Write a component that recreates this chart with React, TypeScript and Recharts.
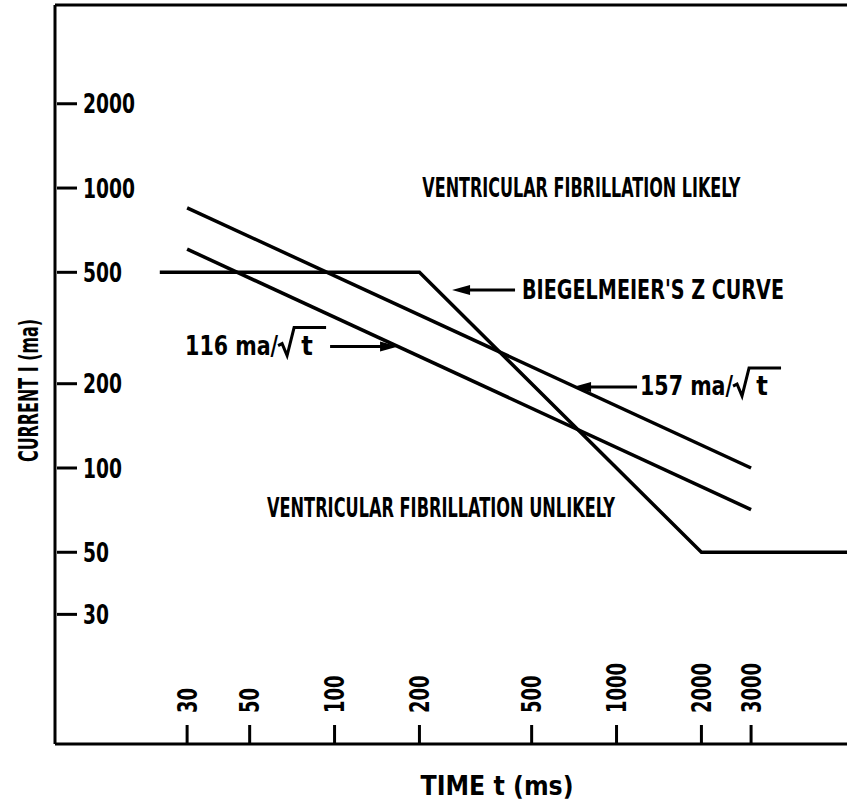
import React from 'react';
import { LineChart, Line, XAxis, YAxis, ReferenceDot, ReferenceLine } from 'recharts';

const FONT = "'Liberation Sans Narrow', 'DejaVu Sans Condensed', 'Liberation Sans', Arial, sans-serif";

// axes
const timeTicks = [30, 50, 100, 200, 500, 1000, 2000, 3000];
const currentTicks = [30, 50, 100, 200, 500, 1000, 2000];
const timeDomain = [10.2, 6566];
const currentDomain = [10.33, 4506];

// Biegelmeier's Z curve
const zTimes = [24, 200, 2000, 8000];
const zCurrents = [500, 500, 50, 50];
// 157 ma / sqrt(t)
const l157Times = [30, 3000];
const l157Currents = [850, 100];
// 116 ma / sqrt(t)
const l116Times = [30, 3000];
const l116Currents = [605, 71];

// annotation anchors (data coordinates)
const likelyAnchor = { t: 750, v: 1000 };
const unlikelyAnchor = { t: 57.6, v: 72 };
const zArrowTip = { t: 261, v: 432 };
const l157ArrowTip = { t: 701, v: 194.6 };
const l116ArrowTip = { t: 168, v: 271.5 };

const zip = (ts: number[], vs: number[]) => ts.map((t, i) => ({ t, v: vs[i] }));
const zData = zip(zTimes, zCurrents);
const l157Data = zip(l157Times, l157Currents);
const l116Data = zip(l116Times, l116Currents);

const YTick = (props: any) => {
  const { x, y, payload } = props;
  const s = String(payload.value);
  return (
    <g>
      <line x1={x + 2} x2={x + 22} y1={y} y2={y} stroke="#000" strokeWidth={3} />
      <text
        x={x + 28}
        y={y}
        dy="0.36em"
        textLength={s.length * 13}
        lengthAdjust="spacingAndGlyphs"
        fontFamily={FONT}
        fontWeight="bold"
        fontSize={27}
        fill="#000"
      >
        {s}
      </text>
    </g>
  );
};

const XTick = (props: any) => {
  const { x, y, payload } = props;
  const s = String(payload.value);
  return (
    <g>
      <line x1={x} x2={x} y1={y - 19} y2={y} stroke="#000" strokeWidth={3} />
      <text
        transform={`translate(${x},${y - 31}) rotate(-90)`}
        dy="0.36em"
        textAnchor="start"
        textLength={s.length * 12.5}
        lengthAdjust="spacingAndGlyphs"
        fontFamily={FONT}
        fontWeight="bold"
        fontSize={27}
        fill="#000"
      >
        {s}
      </text>
    </g>
  );
};

const Arrow = ({ tx, ty, dir, len }: { tx: number; ty: number; dir: number; len: number }) => {
  const back = -dir;
  return (
    <g>
      <line x1={tx + back * 14} x2={tx + back * len} y1={ty} y2={ty} stroke="#000" strokeWidth={3} />
      <polygon
        points={`${tx},${ty} ${tx + back * 18},${ty - 5} ${tx + back * 18},${ty + 5}`}
        fill="#000"
      />
    </g>
  );
};

const SqrtLabel = ({ x, by, num }: { x: number; by: number; num: string }) => (
  <g>
    <text x={x} y={by} textLength={93} lengthAdjust="spacingAndGlyphs" fontFamily={FONT} fontWeight="bold" fontSize={27} fill="#000">
      {num} ma/
    </text>
    <path
      d={`M ${x + 93} ${by - 9} L ${x + 97} ${by - 11} L ${x + 102} ${by + 1} L ${x + 109} ${by - 27} L ${x + 141} ${by - 27}`}
      stroke="#000"
      strokeWidth={3}
      fill="none"
    />
    <text x={x + 122} y={by} textAnchor="middle" fontFamily={FONT} fontWeight="bold" fontSize={27} fill="#000">
      t
    </text>
  </g>
);

const textStyle = { fontFamily: FONT, fontWeight: 'bold' as const, fill: '#000' };

export default function App() {
  return (
    <div style={{ position: 'absolute', left: 0, top: 0, width: 847, height: 803, background: '#fff' }}>
      <LineChart width={847} height={803} margin={{ top: 5, right: 0, left: 54, bottom: 58 }}>
        <XAxis
          dataKey="t"
          type="number"
          scale="log"
          domain={timeDomain}
          allowDataOverflow
          ticks={timeTicks}
          interval={0}
          height={1}
          tickSize={0}
          tickMargin={0}
          tick={<XTick />}
          axisLine={{ stroke: '#000', strokeWidth: 3 }}
          tickLine={false}
          label={{
            content: (p: any) => {
              const vb = p.viewBox || { x: 55, y: 744, width: 792 };
              return (
                <text
                  x={vb.x + vb.width / 2 + 46}
                  y={vb.y + 42}
                  dy="0.36em"
                  textAnchor="middle"
                  textLength={153}
                  lengthAdjust="spacingAndGlyphs"
                  fontSize={26}
                  {...textStyle}
                >
                  TIME t (ms)
                </text>
              );
            },
          }}
        />
        <YAxis
          dataKey="v"
          type="number"
          scale="log"
          domain={currentDomain}
          allowDataOverflow
          ticks={currentTicks}
          interval={0}
          width={1}
          tickSize={0}
          tickMargin={0}
          tick={<YTick />}
          axisLine={{ stroke: '#000', strokeWidth: 3 }}
          tickLine={false}
          label={{
            content: (p: any) => {
              const vb = p.viewBox || { x: 54, y: 5, width: 1, height: 739 };
              const cx = vb.x + vb.width - 27;
              const cy = vb.y + vb.height / 2 + 16;
              return (
                <text
                  transform={`translate(${cx},${cy}) rotate(-90)`}
                  dy="0.36em"
                  textAnchor="middle"
                  textLength={143}
                  lengthAdjust="spacingAndGlyphs"
                  fontSize={27}
                  {...textStyle}
                >
                  CURRENT I (ma)
                </text>
              );
            },
          }}
        />
        <ReferenceLine y={currentDomain[1]} stroke="#000" strokeWidth={3} ifOverflow="visible" />

        <Line data={zData} dataKey="v" type="linear" stroke="#000" strokeWidth={3.5} dot={false} isAnimationActive={false} />
        <Line data={l157Data} dataKey="v" type="linear" stroke="#000" strokeWidth={3.5} dot={false} isAnimationActive={false} />
        <Line data={l116Data} dataKey="v" type="linear" stroke="#000" strokeWidth={3.5} dot={false} isAnimationActive={false} />

        <ReferenceDot
          x={likelyAnchor.t}
          y={likelyAnchor.v}
          ifOverflow="visible"
          shape={(p: any) => (
            <text x={p.cx} y={p.cy} dy="0.36em" textAnchor="middle" textLength={318} lengthAdjust="spacingAndGlyphs" fontSize={26} {...textStyle}>
              VENTRICULAR FIBRILLATION LIKELY
            </text>
          )}
        />
        <ReferenceDot
          x={unlikelyAnchor.t}
          y={unlikelyAnchor.v}
          ifOverflow="visible"
          shape={(p: any) => (
            <text x={p.cx} y={p.cy} dy="0.36em" textAnchor="start" textLength={348} lengthAdjust="spacingAndGlyphs" fontSize={26} {...textStyle}>
              VENTRICULAR FIBRILLATION UNLIKELY
            </text>
          )}
        />
        <ReferenceDot
          x={zArrowTip.t}
          y={zArrowTip.v}
          ifOverflow="visible"
          shape={(p: any) => (
            <g>
              <Arrow tx={p.cx} ty={p.cy} dir={-1} len={63} />
              <text x={p.cx + 70} y={p.cy} dy="0.36em" textAnchor="start" textLength={262} lengthAdjust="spacingAndGlyphs" fontSize={26} {...textStyle}>
                BIEGELMEIER'S Z CURVE
              </text>
            </g>
          )}
        />
        <ReferenceDot
          x={l157ArrowTip.t}
          y={l157ArrowTip.v}
          ifOverflow="visible"
          shape={(p: any) => (
            <g>
              <Arrow tx={p.cx} ty={p.cy} dir={-1} len={64} />
              <SqrtLabel x={p.cx + 67} by={p.cy + 8} num="157" />
            </g>
          )}
        />
        <ReferenceDot
          x={l116ArrowTip.t}
          y={l116ArrowTip.v}
          ifOverflow="visible"
          shape={(p: any) => (
            <g>
              <Arrow tx={p.cx} ty={p.cy} dir={1} len={68} />
              <SqrtLabel x={p.cx - 213} by={p.cy + 8} num="116" />
            </g>
          )}
        />
      </LineChart>
    </div>
  );
}
